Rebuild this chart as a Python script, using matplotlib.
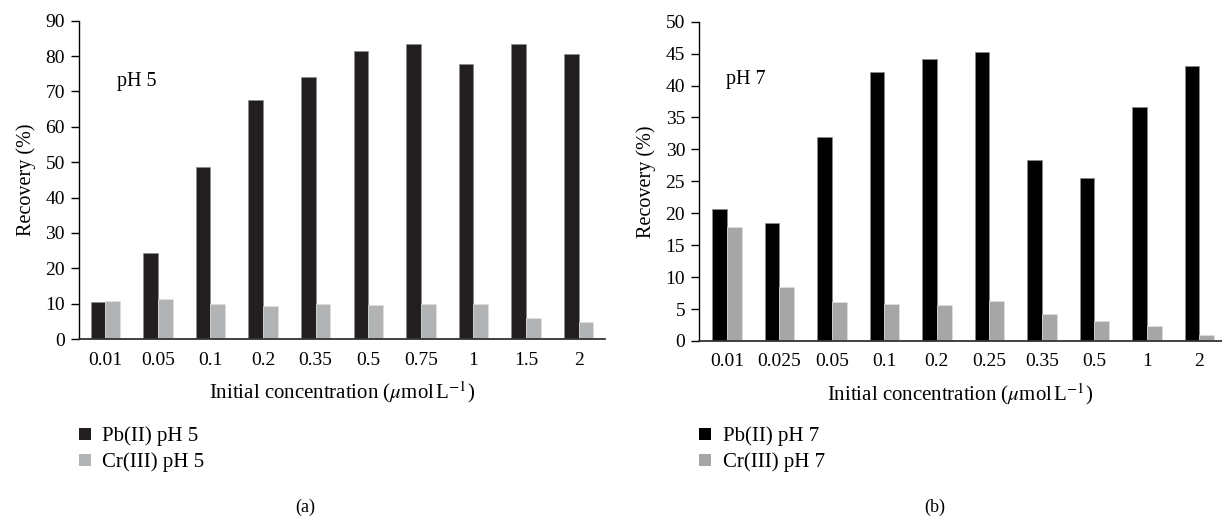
import numpy as np
import matplotlib
matplotlib.use('Agg')
import matplotlib.pyplot as plt
from matplotlib.patches import Patch

plt.rcParams['font.family'] = ['Liberation Serif', 'DejaVu Serif']
plt.rcParams['mathtext.fontset'] = 'stix'

# data
conc_a = ['0.01', '0.05', '0.1', '0.2', '0.35', '0.5', '0.75', '1', '1.5', '2']
pb_ph5 = [10.4, 24.2, 48.6, 67.7, 74.2, 81.5, 83.3, 77.9, 83.3, 80.7]
cr_ph5 = [10.8, 11.2, 10.0, 9.3, 9.8, 9.5, 9.8, 9.8, 5.8, 4.8]

conc_b = ['0.01', '0.025', '0.05', '0.1', '0.2', '0.25', '0.35', '0.5', '1', '2']
pb_ph7 = [20.6, 18.4, 32.0, 42.2, 44.2, 45.3, 28.3, 25.5, 36.7, 43.0]
cr_ph7 = [17.9, 8.4, 6.1, 5.8, 5.6, 6.2, 4.2, 3.2, 2.3, 0.9]

fig = plt.figure(figsize=(12.22, 5.19), dpi=100)
ax1 = fig.add_axes([0.0646, 0.3468, 0.4305, 0.6133])
ax2 = fig.add_axes([0.5720, 0.3430, 0.4280, 0.6152])

w = 0.28
fs = 14
xlab = r'Initial concentration ($\mu$mol$\,$L$^{-1}$)'

def draw(ax, cats, pb, cr, c_pb, c_cr, ymax, step, xlim, tag, tagx, tagy,
         lab_pb, lab_cr, legx, capx, cap):
    x = np.arange(len(cats))
    ax.bar(x - w/2, pb, w, color=c_pb, edgecolor='#8a8a8a', linewidth=0.5)
    ax.bar(x + w/2, cr, w, color=c_cr, edgecolor='#e0e0e0', linewidth=0.5)
    ax.set_xlim(*xlim)
    ax.set_ylim(0, ymax)
    ax.set_yticks(np.arange(0, ymax + 1, step))
    ax.set_xticks(x)
    ax.set_xticklabels(cats)
    ax.tick_params(axis='x', length=0, pad=9, labelsize=fs)
    ax.tick_params(axis='y', length=6, width=1, labelsize=fs, pad=4)
    for s in ['top', 'right']:
        ax.spines[s].set_visible(False)
    ax.spines['left'].set_linewidth(1)
    ax.spines['bottom'].set_linewidth(1.3)
    ax.spines['bottom'].set_color('#333333')
    ax.set_ylabel('Recovery (%)', fontsize=fs + 0.5, labelpad=7)
    ax.set_xlabel(xlab, fontsize=fs + 1, labelpad=8)
    ax.text(tagx, tagy, tag, fontsize=fs + 0.5, va='center', ha='left')
    handles = [Patch(facecolor=c_pb, label=lab_pb), Patch(facecolor=c_cr, label=lab_cr)]
    fig.legend(handles=handles, loc='upper left', bbox_to_anchor=(legx, 0.178),
               frameon=False, fontsize=15, handlelength=0.58, handleheight=0.58,
               handletextpad=0.55, labelspacing=0.3, borderpad=0, borderaxespad=0)
    fig.text(capx, 0.022, cap, fontsize=13, ha='center', va='center')

draw(ax1, conc_a, pb_ph5, cr_ph5, '#231f20', '#b2b3b5', 90, 10, (-0.5, 9.5),
     'pH 5', 0.22, 72.7, 'Pb(II) pH 5', 'Cr(III) pH 5', 0.0646, 0.25, '(a)')
draw(ax2, conc_b, pb_ph7, cr_ph7, '#000000', '#a6a6a6', 50, 5, (-0.53, 9.43),
     'pH 7', -0.016, 40.9, 'Pb(II) pH 7', 'Cr(III) pH 7', 0.572, 0.765, '(b)')

fig.savefig('out.png', dpi=100)
